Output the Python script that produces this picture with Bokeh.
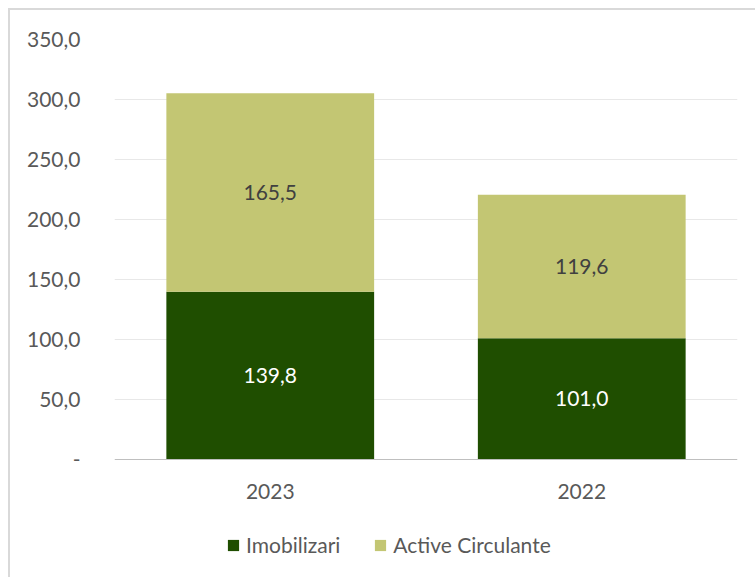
from bokeh.plotting import figure
from bokeh.models import (FixedTicker, Legend, LegendItem, ColumnDataSource,
                          InlineStyleSheet, Range1d, FactorRange, Span)
from bokeh.core.properties import value
from bokeh.embed import file_html
from bokeh.resources import INLINE

years = ["2023", "2022"]
imobilizari = [139.8, 101.0]
active_circulante = [165.5, 119.6]
y_ticks = [0, 50, 100, 150, 200, 250, 300, 350]
y_tick_labels = ["-", "50,0", "100,0", "150,0", "200,0", "250,0", "300,0", "350,0"]

FONT = "Lato"
FS = "21px"
C_DARK = "#1f4e00"
C_LIGHT = "#c3c673"
TXT = "#595959"

src = ColumnDataSource(dict(
    x=years,
    base=[0] * len(years),
    imob=imobilizari,
    act=active_circulante,
    imob_mid=[v / 2 for v in imobilizari],
    act_mid=[a + b / 2 for a, b in zip(imobilizari, active_circulante)],
    imob_lbl=[f"{v:.1f}".replace(".", ",") for v in imobilizari],
    act_lbl=[f"{v:.1f}".replace(".", ",") for v in active_circulante],
))

# y range extends below zero to leave room (118 px at 1.2 px/unit) for labels & legend
p = figure(x_range=FactorRange(*years, range_padding=0), y_range=Range1d(-118 / 1.2, 350),
           frame_width=623, frame_height=538, output_backend="svg", toolbar_location=None,
           min_border_left=114, min_border_right=18, min_border_top=39,
           min_border_bottom=0)
p.border_fill_alpha = 0
p.stylesheets = [InlineStyleSheet(css=":host { background:"
    " linear-gradient(#d9d9d9,#d9d9d9) 8px 8px / 2px 100% no-repeat,"
    " linear-gradient(#d9d9d9,#d9d9d9) 8px 8px / 100% 2px no-repeat, white; }")]

r = p.vbar_stack(["imob", "act"], x="x", width=0.667, source=src,
                 color=[C_DARK, C_LIGHT], line_color=None)

p.text(x="x", y="imob_mid", text="imob_lbl", source=src, text_align="center",
       text_baseline="middle", text_color="white", text_font=value(FONT),
       text_font_size=FS)
p.text(x="x", y="act_mid", text="act_lbl", source=src, text_align="center",
       text_baseline="middle", text_color="#404040", text_font=value(FONT),
       text_font_size=FS)
# category labels under the baseline
p.text(x="x", y="base", text="x", source=src, text_align="center",
       text_baseline="middle", y_offset=32, text_color=TXT, text_font=value(FONT),
       text_font_size=FS)

p.add_layout(Span(location=0, dimension="width", line_color="#bfbfbf", line_width=1))

p.outline_line_color = None
p.xaxis.visible = False
p.xgrid.grid_line_color = None
p.ygrid.grid_line_color = "#e8e8e8"
p.ygrid.grid_line_width = 1
p.yaxis.ticker = FixedTicker(ticks=y_ticks)
p.ygrid.ticker = FixedTicker(ticks=y_ticks[1:])
p.yaxis.major_label_overrides = {t: l for t, l in zip(y_ticks, y_tick_labels)}
p.yaxis.axis_line_color = None
p.yaxis.major_tick_line_color = None
p.yaxis.minor_tick_line_color = None
p.yaxis.major_label_standoff = 28
p.yaxis.major_label_text_font = FONT
p.yaxis.major_label_text_font_size = FS
p.yaxis.major_label_text_color = TXT

legend = Legend(items=[LegendItem(label="Imobilizari", renderers=[r[0]]),
                       LegendItem(label="Active Circulante", renderers=[r[1]])],
                orientation="horizontal", location=(112, 20),
                border_line_color=None, background_fill_alpha=0,
                label_text_font=FONT, label_text_font_size=FS,
                label_text_color=TXT, glyph_width=14, glyph_height=14,
                spacing=33, label_standoff=6, padding=0, margin=0)
p.add_layout(legend, "center")

open("out.html", "w").write(file_html(p, INLINE))
